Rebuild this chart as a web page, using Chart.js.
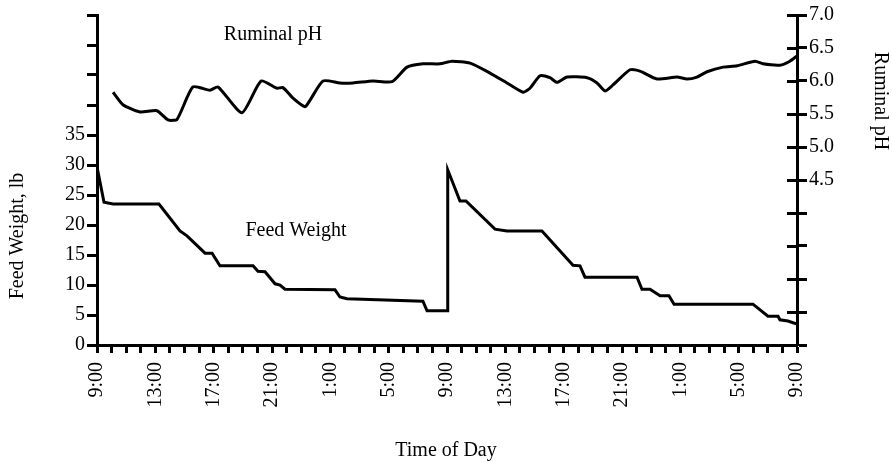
<!DOCTYPE html>
<html>
<head>
<meta charset="utf-8">
<script src="https://cdn.jsdelivr.net/npm/chart.js@4.4.1/dist/chart.umd.min.js"></script>
<style>
  html, body { margin: 0; padding: 0; background: #fff; }
  #wrap { width: 892px; height: 462px; position: relative; }
</style>
</head>
<body>
<div id="wrap"><canvas id="c" width="892" height="462"></canvas></div>
<script>
// Hours since 9:00 on day 1 (0..48)
const phHours = [1.10, 1.78, 2.95, 4.11, 4.87, 5.49, 6.58, 7.75, 8.30, 9.94, 11.25, 12.34, 12.75, 13.44, 14.26, 14.61, 15.50, 16.66, 17.55, 18.93, 20.23, 21.26, 22.35, 23.52, 24.34, 25.58, 26.95, 28.11, 29.21, 29.69, 30.38, 31.06, 31.54, 32.23, 33.60, 34.29, 34.83, 35.38, 36.55, 37.23, 38.40, 39.77, 40.46, 41.14, 41.83, 42.93, 43.89, 45.12, 45.67, 46.83, 47.51, 48.0];
const phValues = [5.83, 5.64, 5.53, 5.55, 5.41, 5.42, 5.91, 5.86, 5.91, 5.52, 6.00, 5.89, 5.90, 5.74, 5.61, 5.71, 6.00, 5.97, 5.97, 6.00, 5.99, 6.21, 6.26, 6.26, 6.30, 6.27, 6.12, 5.97, 5.83, 5.89, 6.08, 6.05, 5.98, 6.06, 6.05, 5.97, 5.85, 5.94, 6.17, 6.15, 6.03, 6.06, 6.03, 6.06, 6.14, 6.21, 6.23, 6.30, 6.26, 6.24, 6.30, 6.38];

const feedHours = [0, 0.48, 1.10, 4.25, 5.69, 6.17, 7.41, 7.89, 8.43, 10.70, 11.04, 11.52, 12.21, 12.55, 12.89, 16.32, 16.66, 17.14, 22.35, 22.63, 24.0, 24.05, 24.89, 25.30, 27.29, 28.11, 30.51, 32.64, 33.12, 33.46, 37.03, 37.37, 37.92, 38.61, 39.22, 39.57, 44.98, 46.01, 46.70, 46.83, 47.38, 48.0];
const feedValues = [29.7, 23.8, 23.5, 23.5, 19.0, 18.2, 15.3, 15.3, 13.2, 13.2, 12.3, 12.2, 10.2, 10.0, 9.3, 9.2, 8.0, 7.7, 7.3, 5.7, 5.7, 29.2, 24.0, 24.0, 19.3, 19.0, 19.0, 13.3, 13.2, 11.3, 11.3, 9.3, 9.3, 8.2, 8.2, 6.8, 6.8, 4.8, 4.8, 4.2, 4.0, 3.5];

const startHour = 9;
const feedTickMax = 35;   // left labels shown up to
const phTickMin = 4.5;    // right labels shown from

const FONT = 'Liberation Serif, Times New Roman, serif';

const textPlugin = {
  id: 'texts',
  afterDraw(chart) {
    const ctx = chart.ctx;
    ctx.save();
    ctx.fillStyle = '#000';
    ctx.textAlign = 'center';
    ctx.textBaseline = 'middle';
    ctx.font = '20px ' + FONT;
    ctx.fillText('Ruminal pH', 273, 35);
    ctx.fillText('Feed Weight', 296, 231);
    ctx.fillText('Time of Day', 446, 451);
    ctx.save();
    ctx.translate(18, 236);
    ctx.rotate(-Math.PI / 2);
    ctx.fillText('Feed Weight, lb', 0, 0);
    ctx.restore();
    ctx.save();
    ctx.translate(880, 101);
    ctx.rotate(Math.PI / 2);
    ctx.fillText('Ruminal pH', 0, 0);
    ctx.restore();
    // inward half of right-axis tick marks
    const s = chart.scales.y1;
    ctx.strokeStyle = '#000';
    ctx.lineWidth = 3;
    s.ticks.forEach(t => {
      const y = Math.round(s.getPixelForValue(t.value)) + 0.5;
      ctx.beginPath();
      ctx.moveTo(s.left - 10, y);
      ctx.lineTo(s.left, y);
      ctx.stroke();
    });
    ctx.restore();
  }
};

new Chart(document.getElementById('c'), {
  type: 'line',
  data: {
    datasets: [
      {
        label: 'Ruminal pH',
        data: phHours.map((h, i) => ({x: h, y: phValues[i]})),
        yAxisID: 'y1',
        borderColor: '#000',
        borderWidth: 3,
        pointRadius: 0,
        tension: 0.2,
        fill: false
      },
      {
        label: 'Feed Weight',
        data: feedHours.map((h, i) => ({x: h, y: feedValues[i]})),
        yAxisID: 'y',
        borderColor: '#000',
        borderWidth: 3,
        pointRadius: 0,
        tension: 0,
        fill: false
      }
    ]
  },
  options: {
    responsive: false,
    animation: false,
    devicePixelRatio: 1,
    layout: { padding: { top: 15, left: 0, right: 0, bottom: 0 } },
    plugins: { legend: { display: false }, tooltip: { enabled: false } },
    scales: {
      x: {
        type: 'linear',
        min: 0, max: 48,
        afterFit(scale) { scale.height = 117; },
        ticks: {
          stepSize: 1,
          autoSkip: false,
          maxRotation: 90, minRotation: 90,
          padding: 9,
          color: '#000',
          font: { family: FONT, size: 20 },
          callback: v => (v % 4 === 0 ? ((startHour + v) % 24) + ':00' : '')
        },
        grid: { drawOnChartArea: false, drawTicks: true, tickLength: 8, tickWidth: 3, tickColor: '#000' },
        border: { display: true, width: 3, color: '#000' }
      },
      y: {
        position: 'left',
        min: 0, max: 55,
        afterFit(scale) { scale.width = 97; },
        ticks: {
          stepSize: 5,
          padding: 2,
          color: '#000',
          font: { family: FONT, size: 20 },
          callback: v => (v <= feedTickMax ? String(v) : '')
        },
        grid: { drawOnChartArea: false, drawTicks: true, tickLength: 10, tickWidth: 3, tickColor: '#000' },
        border: { display: true, width: 3, color: '#000' }
      },
      y1: {
        position: 'right',
        min: 2, max: 7,
        afterFit(scale) { scale.width = 95; },
        ticks: {
          stepSize: 0.5,
          padding: 2,
          color: '#000',
          font: { family: FONT, size: 20 },
          callback: v => (v >= phTickMin ? v.toFixed(1) : '')
        },
        grid: { drawOnChartArea: false, drawTicks: true, tickLength: 10, tickWidth: 3, tickColor: '#000' },
        border: { display: true, width: 3, color: '#000' }
      }
    }
  },
  plugins: [textPlugin]
});
</script>
</body>
</html>
